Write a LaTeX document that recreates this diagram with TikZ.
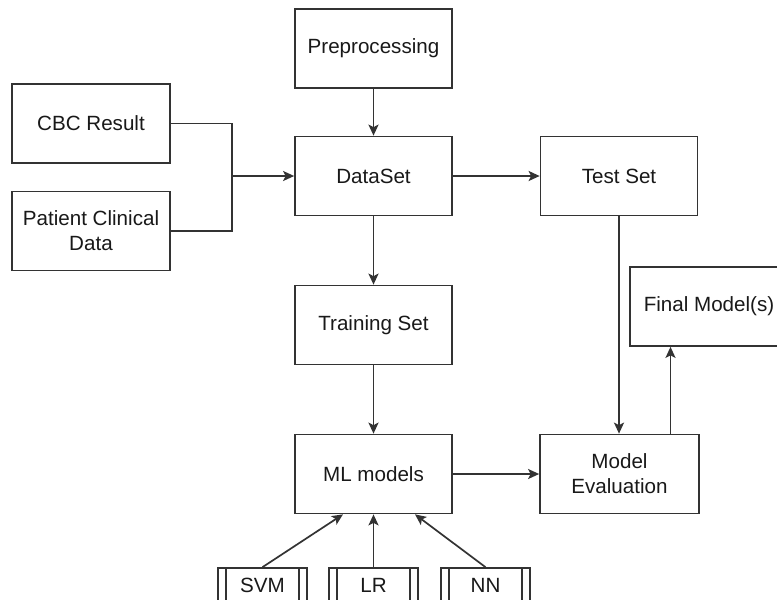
\documentclass[tikz,border=0pt]{standalone}
\usepackage{fontspec}
\setmainfont{Liberation Sans}
\usetikzlibrary{arrows.meta}
\begin{document}
\begin{tikzpicture}[x=1pt,y=-1pt,
  every node/.style={font=\fontsize{20.6}{25}\selectfont, text=black!90},
  box/.style={draw=black!80, line width=1.7pt, fill=white, minimum width=157pt,
    minimum height=79pt, inner sep=0pt, align=center},
  algo/.style={draw=black!80, line width=1.7pt, fill=white, minimum width=89pt,
    minimum height=34pt, inner sep=0pt},
  link/.style={draw=black!80, line width=1.7pt},
  arr/.style={link, -{Stealth[length=11pt,width=10pt,inset=2.5pt]}}]
\clip (0,0) rectangle (777,600);
\fill[white] (0,0) rectangle (777,600);

% main column
\node[box] (pre) at (373.5,48.5) {Preprocessing};
\node[box] (ds)  at (373.5,176) {DataSet};
\node[box] (tr)  at (373.5,325) {Training Set};
\node[box] (ml)  at (373.5,474) {ML models};

% data sources
\node[box, minimum width=158pt] (cbc) at (91,123.5) {CBC Result};
\node[box, minimum width=158pt] (pat) at (91,231) {Patient Clinical\\Data};

% evaluation branch
\node[box] (ts) at (619,176) {Test Set};
\node[box, minimum width=159pt] (me) at (619.5,474) {Model\\Evaluation};
\node[box, minimum width=158pt] (fm) at (709,306.5) {Final Model(s)};

% candidate algorithms (predefined-process boxes)
\node[algo] (svm) at (262.5,585) {SVM};
\node[algo] (lr)  at (373.5,585) {LR};
\node[algo] (nn)  at (485.5,585) {NN};
\foreach \n in {svm,lr,nn}{
  \draw[link] ([xshift=9pt]\n.north west) -- ([xshift=9pt]\n.south west);
  \draw[link] ([xshift=-9pt]\n.north east) -- ([xshift=-9pt]\n.south east);
}

% merge of the two sources into the data set
\coordinate (mx) at (232,176);
\draw[link] (cbc.east) -| (mx) |- (pat.east);
\draw[arr] (mx) -- (ds.west);

% flow
\draw[arr] (pre) -- (ds);
\draw[arr] (ds) -- (tr);
\draw[arr] (tr) -- (ml);
\draw[arr] (ds) -- (ts);
\draw[arr] (ml) -- (me);
\draw[arr] (ts.south) -- (ts.south |- me.north);
\draw[arr] ([xshift=51pt]me.north) -- ([xshift=51pt]me.north |- fm.south);

% algorithms feeding the models
\draw[arr] (svm.north) -- ([xshift=-30.5pt]ml.south);
\draw[arr] (lr.north) -- (ml.south);
\draw[arr] (nn.north) -- ([xshift=41.5pt]ml.south);
\end{tikzpicture}
\end{document}
